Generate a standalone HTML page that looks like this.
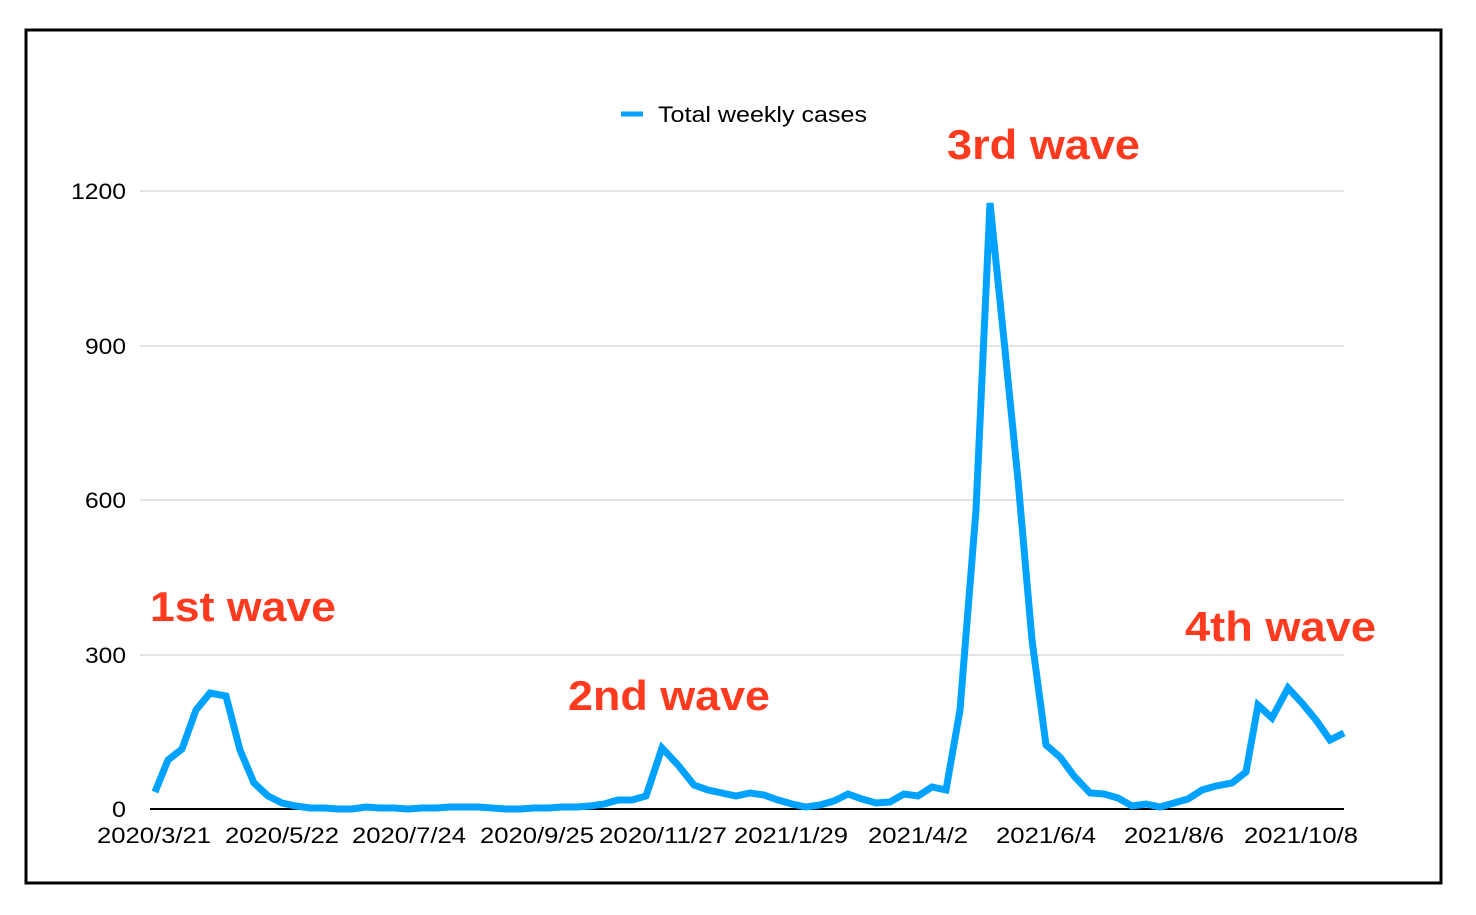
<!DOCTYPE html>
<html><head><style>body{margin:0;background:#fff}</style></head><body>
<svg width="1476" height="910" xmlns="http://www.w3.org/2000/svg" font-family="Liberation Sans, sans-serif">
<rect x="0" y="0" width="1476" height="910" fill="#fff"/>
<rect x="26" y="30" width="1415" height="853" fill="none" stroke="#000" stroke-width="3"/>
<g stroke="#c8c8c8" stroke-width="1">
<line x1="140" y1="191" x2="1344" y2="191"/><line x1="140" y1="346" x2="1344" y2="346"/>
<line x1="140" y1="500" x2="1344" y2="500"/><line x1="140" y1="655" x2="1344" y2="655"/>
</g>
<line x1="150" y1="809" x2="1344" y2="809" stroke="#000" stroke-width="2"/>
<g font-size="22" text-anchor="end" fill="#000">
<text x="126" y="199" textLength="55" lengthAdjust="spacingAndGlyphs">1200</text>
<text x="126" y="354" textLength="41" lengthAdjust="spacingAndGlyphs">900</text>
<text x="126" y="508" textLength="41" lengthAdjust="spacingAndGlyphs">600</text>
<text x="126" y="663" textLength="41" lengthAdjust="spacingAndGlyphs">300</text>
<text x="126" y="817" textLength="14" lengthAdjust="spacingAndGlyphs">0</text></g>
<g font-size="22" text-anchor="middle" fill="#000" lengthAdjust="spacingAndGlyphs">
<text x="154" y="843" textLength="114" lengthAdjust="spacingAndGlyphs">2020/3/21</text>
<text x="282" y="843" textLength="114" lengthAdjust="spacingAndGlyphs">2020/5/22</text>
<text x="409" y="843" textLength="114" lengthAdjust="spacingAndGlyphs">2020/7/24</text>
<text x="537" y="843" textLength="114" lengthAdjust="spacingAndGlyphs">2020/9/25</text>
<text x="663" y="843" textLength="128" lengthAdjust="spacingAndGlyphs">2020/11/27</text>
<text x="791" y="843" textLength="114" lengthAdjust="spacingAndGlyphs">2021/1/29</text>
<text x="918" y="843" textLength="100" lengthAdjust="spacingAndGlyphs">2021/4/2</text>
<text x="1046" y="843" textLength="100" lengthAdjust="spacingAndGlyphs">2021/6/4</text>
<text x="1174" y="843" textLength="100" lengthAdjust="spacingAndGlyphs">2021/8/6</text>
<text x="1301" y="843" textLength="114" lengthAdjust="spacingAndGlyphs">2021/10/8</text></g>
<line x1="621" y1="114" x2="643" y2="114" stroke="#00a2ff" stroke-width="5"/>
<text x="658" y="122" font-size="22" fill="#000" textLength="209" lengthAdjust="spacingAndGlyphs">Total weekly cases</text>
<polyline fill="none" stroke="#00a2ff" stroke-width="7" stroke-linejoin="miter" points="155,792 168,760 182,749 196,710 210,693 226,696 240,750 254,783 268,796 282,803 296,806 310,808 324,808 338,809 352,809 366,807 380,808 394,808 408,809 422,808 436,808 450,807 464,807 478,807 492,808 506,809 520,809 534,808 548,808 562,807 576,807 590,806 604,804 618,800 632,800 646,796 662,748 678,765 694,785 708,790 722,793 736,796 750,793 764,795 778,800 792,804 806,807 820,805 834,801 848,794 862,799 876,803 890,802 904,794 918,796 932,787 946,790 960,710 976,510 990,203 1005,350 1018,480 1032,640 1046,745 1060,757 1074,776 1090,793 1104,794 1118,798 1132,806 1146,804 1160,807 1174,803 1188,799 1202,790 1216,786 1232,783 1246,772 1258,705 1272,718 1288,688 1302,703 1316,720 1330,740 1344,733"/>
<g font-size="42" font-weight="bold" fill="#ff3a1f">
<text x="150" y="621" textLength="186" lengthAdjust="spacingAndGlyphs">1st wave</text>
<text x="568" y="710" textLength="202" lengthAdjust="spacingAndGlyphs">2nd wave</text>
<text x="947" y="159" textLength="193" lengthAdjust="spacingAndGlyphs">3rd wave</text>
<text x="1185" y="641" textLength="191" lengthAdjust="spacingAndGlyphs">4th wave</text></g>
</svg>
</body></html>
